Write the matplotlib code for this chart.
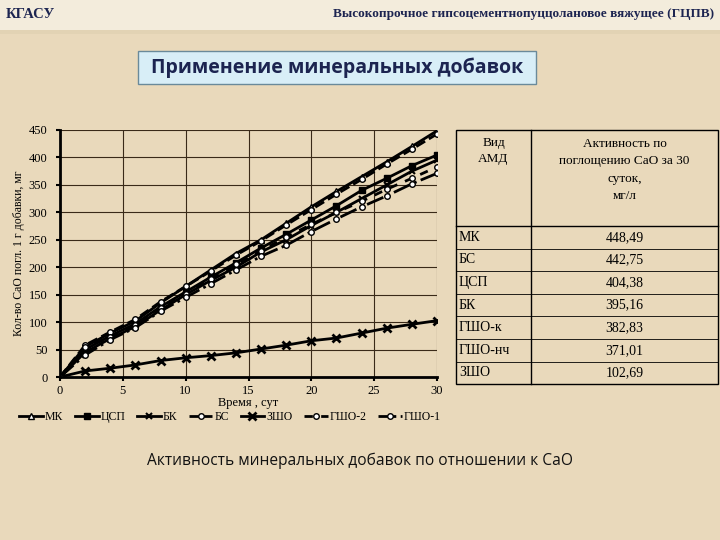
import numpy as np
import matplotlib.pyplot as plt
from matplotlib.patches import Rectangle, FancyBboxPatch

plt.rcParams['font.family'] = ['Liberation Serif', 'DejaVu Serif']

# время, сутки
days = [0, 2, 4, 6, 8, 10, 12, 14, 16, 18, 20, 22, 24, 26, 28, 30]

# поглощение CaO, мг на 1 г добавки
mk = [0, 55, 80, 102, 135, 165, 195, 225, 250, 280, 310, 338, 365, 392, 420, 448.49]
csp = [0, 50, 75, 97, 128, 155, 182, 208, 235, 260, 286, 312, 340, 362, 385, 404.38]
bk = [0, 45, 70, 92, 122, 150, 176, 200, 228, 250, 276, 300, 325, 350, 375, 395.16]
bs = [0, 58, 82, 105, 137, 165, 193, 222, 248, 277, 305, 333, 360, 388, 415, 442.75]
zsho = [0, 11, 16, 22, 30, 35, 39, 44, 51, 58, 66, 71, 80, 89, 96, 102.69]
gsho2 = [0, 55, 72, 95, 125, 152, 178, 205, 230, 255, 278, 300, 320, 342, 362, 382.83]
gsho1 = [0, 40, 68, 90, 120, 145, 170, 195, 220, 240, 265, 288, 310, 330, 352, 371.01]

# таблица активности
tbl_names = ['МК', 'БС', 'ЦСП', 'БК', 'ГШО-к', 'ГШО-нч', 'ЗШО']
tbl_values = ['448,49', '442,75', '404,38', '395,16', '382,83', '371,01', '102,69']

navy = '#1c2450'

fig = plt.figure(figsize=(7.2, 5.4), dpi=100)
fig.patch.set_facecolor('#e9d9bb')

# фон, шапка, заголовок, таблица — в пиксельных координатах
bg = fig.add_axes([0, 0, 1, 1], zorder=0)
bg.set_xlim(0, 720)
bg.set_ylim(540, 0)
bg.axis('off')
bg.add_patch(Rectangle((0, 0), 720, 30, facecolor='#f3ecdc', edgecolor='none'))
bg.add_patch(Rectangle((0, 30), 720, 4, facecolor='#e2d3b4', edgecolor='none'))
bg.text(6, 14, 'КГАСУ', fontsize=10.5, fontweight='bold', color=navy, va='center', ha='left')
bg.text(714, 14, 'Высокопрочное гипсоцементнопуццолановое вяжущее (ГЦПВ)',
        fontsize=9.5, fontweight='bold', color=navy, va='center', ha='right')

bg.add_patch(FancyBboxPatch((138, 51), 398, 33, boxstyle='square,pad=0',
                            facecolor='#d8eef7', edgecolor='#6a8a9a', lw=1))
bg.text(337, 68, 'Применение минеральных добавок', fontsize=14, fontweight='bold',
        color=navy, ha='center', va='center', family=['Open Sans', 'DejaVu Sans'])

bg.text(360, 461, 'Активность минеральных добавок по отношении к СаО', fontsize=11.2,
        color='#111111', ha='center', va='center', family=['Open Sans', 'DejaVu Sans'])

# таблица
tx0, tx1, tx2 = 456, 531, 718
ty0, ty_h = 130, 226
row_h = 22.6
ty1 = ty_h + row_h * len(tbl_names)
bg.add_patch(Rectangle((tx0, ty0), tx2 - tx0, ty1 - ty0, facecolor='none', edgecolor='black', lw=1))
bg.plot([tx1, tx1], [ty0, ty1], color='black', lw=1)
bg.plot([tx0, tx2], [ty_h, ty_h], color='black', lw=1)
for i in range(1, len(tbl_names)):
    y = ty_h + i * row_h
    bg.plot([tx0, tx2], [y, y], color='black', lw=0.6)
bg.text((tx0 + tx1) / 2, 151, 'Вид\nАМД', fontsize=9.5, ha='center', va='center', linespacing=1.5)
bg.text((tx1 + tx2) / 2, 170, 'Активность по\nпоглощению СаО за 30\nсуток,\nмг/л',
        fontsize=9.5, ha='center', va='center', linespacing=1.6)
for i, (n, v) in enumerate(zip(tbl_names, tbl_values)):
    yc = ty_h + (i + 0.5) * row_h
    bg.text(tx0 + 3, yc, n, fontsize=10, ha='left', va='center')
    bg.text((tx1 + tx2) / 2, yc, v, fontsize=10, ha='center', va='center')

# график
ax = fig.add_axes([60 / 720, 1 - 377 / 540, 377 / 720, 247 / 540], zorder=1)
ax.set_facecolor('none')
lw = 2
ax.plot(days, mk, '-', color='black', lw=lw, marker='^', ms=4, mfc='white', mec='black', label='МК')
ax.plot(days, csp, '-', color='black', lw=lw, marker='s', ms=4, mfc='black', label='ЦСП')
ax.plot(days, bk, '-', color='black', lw=lw, marker='x', ms=4, mew=1.5, label='БК')
ax.plot(days, bs, '--', color='black', lw=lw, marker='o', ms=4, mfc='white', mec='black', label='БС')
ax.plot(days, zsho, '-', color='black', lw=lw, marker='x', ms=6, mew=2, label='ЗШО')
ax.plot(days, gsho2, '--', color='black', lw=lw, marker='o', ms=4, mfc='white', mec='black',
        dashes=(3, 3), label='ГШО-2')
ax.plot(days, gsho1, '-.', color='black', lw=lw, marker='o', ms=4, mfc='white', mec='black',
        label='ГШО-1')

ax.set_xlim(0, 30)
ax.set_ylim(0, 450)
ax.set_xticks(range(0, 31, 5))
ax.set_yticks(range(0, 451, 50))
ax.grid(True, color='#3a2a18', lw=0.8)
ax.set_axisbelow(True)
for s in ['top', 'right']:
    ax.spines[s].set_visible(False)
for s in ['left', 'bottom']:
    ax.spines[s].set_linewidth(2)
ax.tick_params(axis='y', labelsize=9, length=3, width=1.5, pad=6)
ax.tick_params(axis='x', labelsize=9, length=3, width=1.5, pad=3)
ax.set_xlabel('Время , сут', fontsize=9, labelpad=0)
ax.set_ylabel('Кол-во СаО погл. 1 г добавки, мг', fontsize=8.5, labelpad=3)

leg = fig.legend(loc='center', bbox_to_anchor=(230 / 720, 1 - 417 / 540), ncol=7, frameon=False,
                 fontsize=8.5, handlelength=2.0, handletextpad=0.15, columnspacing=1.0)

fig.savefig('out.png', dpi=100, facecolor=fig.get_facecolor())
